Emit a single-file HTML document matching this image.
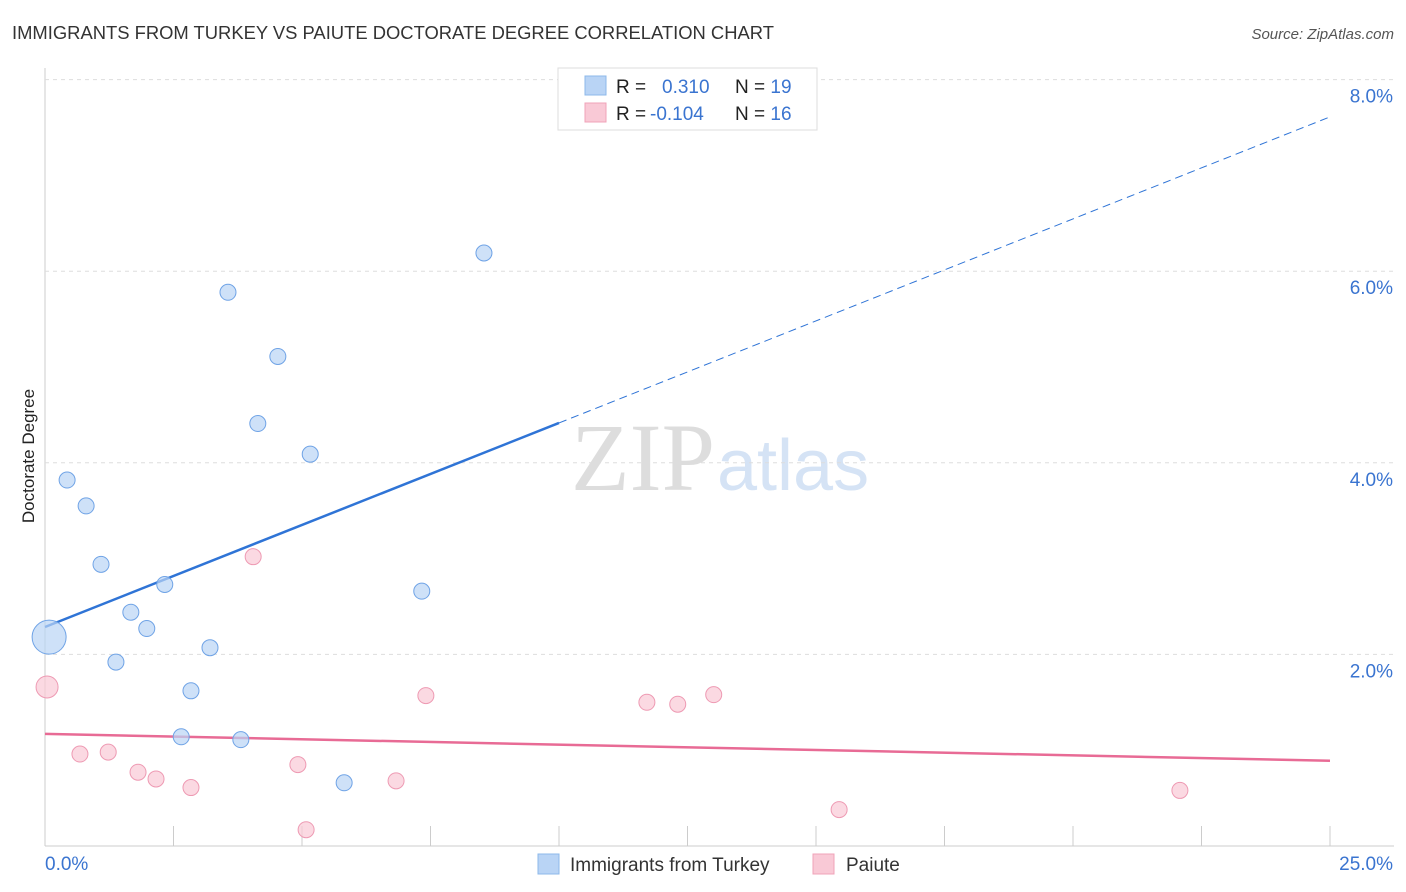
<!DOCTYPE html>
<html><head><meta charset="utf-8"><style>
body{margin:0;background:#fff;font-family:"Liberation Sans",sans-serif;}
svg{display:block}
</style></head><body>
<svg id="c" width="1406" height="892" xmlns="http://www.w3.org/2000/svg">
<text x="12" y="39" font-size="18.4" fill="#333">IMMIGRANTS FROM TURKEY VS PAIUTE DOCTORATE DEGREE CORRELATION CHART</text>
<text x="1394" y="39" font-size="15" fill="#555" text-anchor="end" font-style="italic">Source: ZipAtlas.com</text>
<text x="34" y="456" font-size="17" fill="#222" transform="rotate(-90 34 456)" text-anchor="middle">Doctorate Degree</text>
<text x="715" y="490" font-size="96" fill="#ddd" text-anchor="end" font-family="Liberation Serif,serif">ZIP</text>
<text x="717" y="490" font-size="72" fill="#d5e3f5">atlas</text>
<g id="grid"></g><g id="marks"></g>
<g>
<rect x="558" y="68" width="259" height="62" fill="#fff" stroke="#ddd"/>
<rect x="585" y="76" width="21" height="19" fill="#b9d4f5" stroke="#8db8ea"/>
<rect x="585" y="103" width="21" height="19" fill="#f9c9d6" stroke="#f0a3b8"/>
<text x="616" y="93" font-size="19" fill="#222">R = <tspan fill="#3a74d0" x="662">0.310</tspan><tspan fill="#222" x="735">N = </tspan><tspan fill="#3a74d0">19</tspan></text>
<text x="616" y="120" font-size="19" fill="#222">R = <tspan fill="#3a74d0" x="650">-0.104</tspan><tspan fill="#222" x="735">N = </tspan><tspan fill="#3a74d0">16</tspan></text>
</g>
<g>
<rect x="538" y="854" width="21" height="20" fill="#b9d4f5" stroke="#8db8ea"/>
<text x="570" y="871" font-size="19" fill="#333">Immigrants from Turkey</text>
<rect x="813" y="854" width="21" height="20" fill="#f9c9d6" stroke="#f0a3b8"/>
<text x="846" y="871" font-size="19" fill="#333">Paiute</text>
</g>
</svg>
<script>
const xTicks=[0,2.5,5,7.5,10,12.5,15,17.5,20,22.5,25];
const yTicks=[2,4,6,8];
const yTickLabels=["2.0%","4.0%","6.0%","8.0%"];
const turkeyX=[0.43,0.8,1.09,1.67,1.98,1.38,2.33,2.84,2.65,3.21,3.81,3.56,4.53,4.14,5.16,7.33,5.82,8.54,0.08];
const turkeyY=[3.82,3.55,2.94,2.44,2.27,1.92,2.73,1.62,1.14,2.07,1.11,5.78,5.11,4.41,4.09,2.66,0.66,6.19,2.18];
const paiuteX=[0.04,0.68,1.23,1.81,2.16,2.84,4.05,4.92,5.08,6.83,7.41,11.71,12.31,13.01,15.45,22.08];
const paiuteY=[1.66,0.96,0.98,0.77,0.70,0.61,3.02,0.85,0.17,0.68,1.57,1.50,1.48,1.58,0.38,0.58];
const turkeyLine=[2.286,0.213]; // intercept, slope
const paiuteLine=[1.17,-0.0112];
const X=v=>45+v*51.4, Y=v=>846-v*95.8;
const NS="http://www.w3.org/2000/svg";
const g=document.getElementById('grid'), m=document.getElementById('marks');
function el(t,a,p){const e=document.createElementNS(NS,t);for(const k in a)e.setAttribute(k,a[k]);p.appendChild(e);return e;}
let ax=el('line',{x1:45,y1:846,x2:1394,y2:846,stroke:'#ccc'},g);


let ay=el('line',{x1:45,y1:68,x2:45,y2:846,stroke:'#ccc'},g);


yTicks.forEach((v,i)=>{
 let l=el('line',{x1:45,y1:Y(v),x2:1394,y2:Y(v),stroke:'#ddd','stroke-dasharray':'4 4'},g);
 
 
 let t=el('text',{x:1393,y:Y(v)+23,'font-size':19,fill:'#3a74d0','text-anchor':'end'},g);t.textContent=yTickLabels[i];
 
 
});
xTicks.forEach(v=>{
 let l=el('line',{x1:X(v),y1:826,x2:X(v),y2:846,stroke:'#ccc'},g);
 
 
});
let t0=el('text',{x:45,y:870,'font-size':19,fill:'#3a74d0'},g);t0.textContent="0.0%";


let t1=el('text',{x:1393,y:870,'font-size':19,fill:'#3a74d0','text-anchor':'end'},g);t1.textContent="25.0%";


let bl=el('line',{x1:X(0),y1:Y(turkeyLine[0]),x2:X(10),y2:Y(turkeyLine[0]+10*turkeyLine[1]),stroke:'#2f74d6','stroke-width':2.5},m);


let bd=el('line',{x1:X(10),y1:Y(turkeyLine[0]+10*turkeyLine[1]),x2:X(25),y2:Y(turkeyLine[0]+25*turkeyLine[1]),stroke:'#2f74d6','stroke-width':1,'stroke-dasharray':'8 5'},m);


let pl=el('line',{x1:X(0),y1:Y(paiuteLine[0]),x2:X(25),y2:Y(paiuteLine[0]+25*paiuteLine[1]),stroke:'#e86b95','stroke-width':2.5},m);


turkeyX.forEach((x,i)=>{
 let c=el('circle',{cx:X(x),cy:Y(turkeyY[i]),r:i==18?17:8,fill:'#b9d4f5','fill-opacity':0.7,stroke:'#6fa3e6','stroke-width':1},m);
 
 
});
paiuteX.forEach((x,i)=>{
 let c=el('circle',{cx:X(x),cy:Y(paiuteY[i]),r:i==0?11:8,fill:'#f9c9d6','fill-opacity':0.7,stroke:'#ee9ab3','stroke-width':1},m);
 
 
});
</script>
</body></html>
